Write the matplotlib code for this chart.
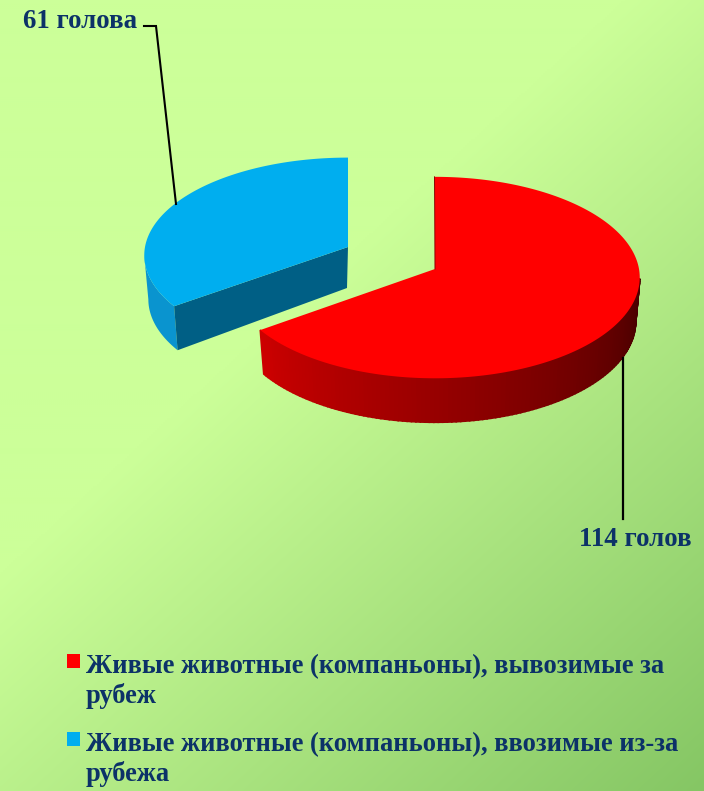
import matplotlib
matplotlib.use('Agg')
import matplotlib.pyplot as plt
import numpy as np
from matplotlib.patches import Polygon, Rectangle

plt.rcParams['font.family'] = ['Liberation Serif', 'DejaVu Serif']

values = [114, 61]
value_labels = ['114 голов', '61 голова']
legend_labels = ['Живые животные (компаньоны), вывозимые за\nрубеж',
                 'Живые животные (компаньоны), ввозимые из-за\nрубежа']
slice_colors = ['#ff0000', '#00aeef']
text_color = '#0c3268'

W, H = 704, 791
PERSP = 0.085
DEPTH = 44
TANGENT = np.arcsin(PERSP)


def project(theta, center, rx, ry, lower=False):
    # theta runs clockwise from the top of the pie, in radians
    u, v = np.sin(theta), -np.cos(theta)
    k = 1 / (1 - PERSP * v)
    if lower:
        return center[0] + 0.98 * rx * u * k, center[1] + ry * v * k + DEPTH
    return center[0] + rx * u * k, center[1] + ry * v * k


def wall_colors(n, start, end):
    return [tuple(np.array(start) + (np.array(end) - np.array(start)) * i / (n - 1)) for i in range(n)]


fig = plt.figure(figsize=(W / 100, H / 100), dpi=100)
ax = fig.add_axes([0, 0, 1, 1])
ax.set_xlim(0, W)
ax.set_ylim(H, 0)
ax.axis('off')

# diagonal background
xx, yy = np.meshgrid(np.linspace(0, 1, 352), np.linspace(0, 1, 396))
t = 0.45 * xx + 0.55 * yy
bg = np.dstack([np.interp(t, [0.4, 1], [204 / 255, 133 / 255]),
                np.interp(t, [0.4, 1], [255 / 255, 198 / 255]),
                np.interp(t, [0.4, 1], [153 / 255, 100 / 255])])
ax.imshow(bg, extent=[0, W, H, 0], aspect='auto', zorder=0, interpolation='bilinear')

fractions = np.array(values) / sum(values)
split = 2 * np.pi * fractions[0]

# red slice, clockwise from the top
red_c, red_rx, red_ry = (435, 269), 204, 100
th = np.linspace(0, split, 200)
x, y = project(th, red_c, red_rx, red_ry)
# outer wall, only the part facing the viewer
front = th[th > np.pi / 2 + TANGENT]
colors = wall_colors(len(front) - 1, (0.27, 0, 0), (0.80, 0, 0))
for i in range(len(front) - 1):
    seg = front[i:i + 2]
    x0, y0 = project(seg, red_c, red_rx, red_ry)
    x1, y1 = project(seg, red_c, red_rx, red_ry, lower=True)
    ax.add_patch(Polygon(np.column_stack([np.r_[x0, x1[::-1]], np.r_[y0, y1[::-1]]]),
                         fc=colors[i], ec=colors[i], lw=1.2, zorder=2))
ax.add_patch(Polygon(np.column_stack([np.r_[red_c[0], x], np.r_[red_c[1], y]]),
                     fc=slice_colors[0], ec='none', zorder=3))
ax.plot([x[0] - 0.5, red_c[0]], [y[0], red_c[1]], color='#8a0000', lw=0.7, zorder=3)

# blue slice, pulled away to the upper left
blue_c, blue_rx, blue_ry = (348, 247), 203, 97
th = np.linspace(split, 2 * np.pi, 120)
x, y = project(th, blue_c, blue_rx, blue_ry)
front = th[th < 1.5 * np.pi - TANGENT]
x0, y0 = project(front, blue_c, blue_rx, blue_ry)
x1, y1 = project(front, blue_c, blue_rx, blue_ry, lower=True)
ax.add_patch(Polygon(np.column_stack([np.r_[x0, x1[::-1]], np.r_[y0, y1[::-1]]]),
                     fc='#0a94cf', ec='none', zorder=2))
ax.add_patch(Polygon([(blue_c[0], blue_c[1]), (x[0], y[0]), (x1[0], y1[0]),
                      (blue_c[0] - 1, blue_c[1] + DEPTH - 3)],
                     fc='#005f85', ec='none', zorder=3))
ax.add_patch(Polygon(np.column_stack([np.r_[blue_c[0], x], np.r_[blue_c[1], y]]),
                     fc=slice_colors[1], ec='none', zorder=4))

# leader lines
ax.plot([144, 156, 176], [26, 26, 204], color='black', lw=1.5, zorder=5, solid_joinstyle='miter')
ax.plot([623, 623], [358, 519], color='black', lw=1.6, zorder=5)

ax.text(635, 546, value_labels[0], ha='center', va='baseline', fontsize=19.4,
        fontweight='bold', color=text_color, zorder=6)
ax.text(80, 28, value_labels[1], ha='center', va='baseline', fontsize=19.4,
        fontweight='bold', color=text_color, zorder=6)

# legend
legend_y = [673, 751]
square_y = [654, 732]
for label, color, ty, sy in zip(legend_labels, slice_colors, legend_y, square_y):
    ax.add_patch(Rectangle((67, sy), 13, 14, fc=color, ec='none', zorder=6))
    first, second = label.split('\n')
    ax.text(86, ty, first, ha='left', va='baseline', fontsize=19.1, fontweight='bold',
            color=text_color, zorder=6)
    ax.text(86, ty + 30, second, ha='left', va='baseline', fontsize=19.1, fontweight='bold',
            color=text_color, zorder=6)

fig.savefig('out.png', dpi=100)
